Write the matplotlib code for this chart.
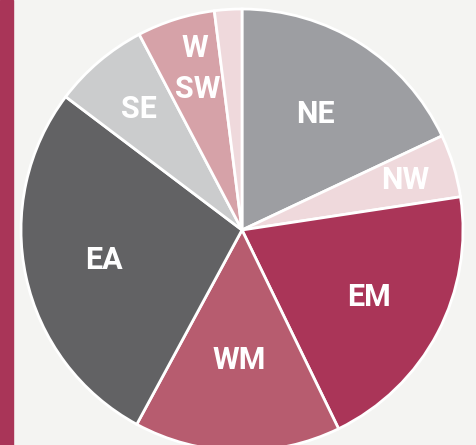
import numpy as np
import matplotlib.pyplot as plt
from matplotlib.patches import Rectangle

# regions, clockwise from 12 o'clock (values in %)
regions = ['NE', 'NW', 'EM', 'WM', 'EA', 'SE', 'SW', 'W']
shares = [18.0, 4.6, 20.2, 15.1, 27.4, 7.0, 5.7, 2.0]
colors = ['#9d9ea2', '#efd9dc', '#aa3558', '#b75c6f', '#626264',
          '#cbcccd', '#d6a2a8', '#efd9dc']

# where each label sits, as fraction of the radius
label_r = [0.62, 0.77, 0.65, 0.59, 0.64, 0.72, 0.67, 0.85]

fig = plt.figure(figsize=(4.77, 4.45), dpi=100, facecolor='#f4f4f2')
ax = fig.add_axes([0, 0, 1, 1])
ax.set_facecolor('#f4f4f2')

wedges, _ = ax.pie(shares, colors=colors, startangle=90, counterclock=False,
                   wedgeprops=dict(edgecolor='white', linewidth=2.0))

font = dict(family=['Roboto', 'DejaVu Sans'], weight='bold',
            color='white', ha='center', va='center', fontsize=22)
for i, (w, name) in enumerate(zip(wedges, regions)):
    mid = np.deg2rad((w.theta1 + w.theta2) / 2)
    if name == 'W':
        # tiny slice: label sits in the neighbouring SW slice, above "SW"
        mid = np.deg2rad(104.5)
    r = label_r[i]
    ax.text(r * np.cos(mid), r * np.sin(mid), name, **font)

ax.set_xlim(-242 / 221, 235 / 221)
ax.set_ylim(-215 / 221, 230 / 221)
ax.set_aspect('auto')
ax.axis('off')

fig.patches.append(Rectangle((0, 0), 13 / 477, 1, transform=fig.transFigure,
                             color='#a93558', zorder=5))

fig.savefig('out.png', dpi=100, facecolor=fig.get_facecolor())
